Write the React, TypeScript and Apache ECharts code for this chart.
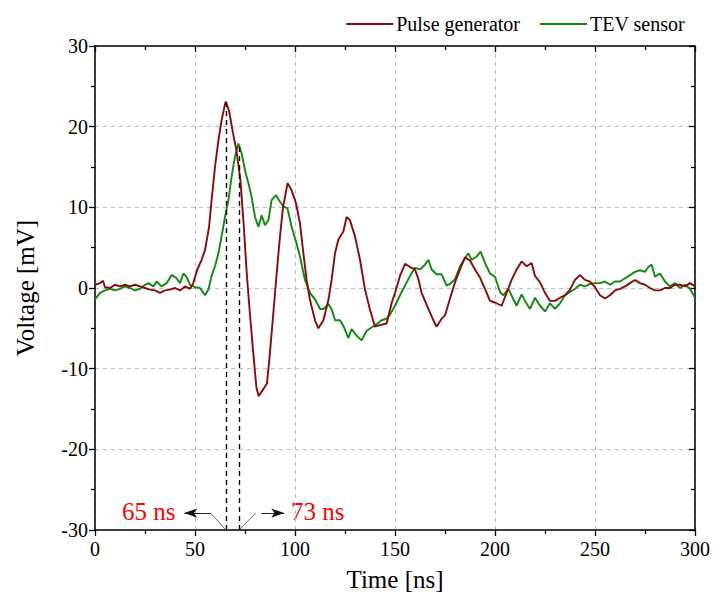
import React, { useEffect, useRef } from "react";
import * as echarts from "echarts";

const pulseTime = [0, 2.5, 4, 5, 7.5, 10, 12.5, 15, 17.5, 20, 22.5, 25, 27.5, 30, 32.5, 35, 37.5, 40, 42.5, 45, 47.5, 49, 51, 53.3, 55, 57, 58.3, 60, 61.7, 63.3, 65.3, 67, 69, 70.7, 72.7, 74.3, 76, 77.3, 79, 80.7, 81.8, 84, 86, 87.3, 89, 90.7, 92.3, 94, 96.3, 98.3, 100.5, 102.5, 104.2, 105.8, 107.5, 110, 111.7, 114.2, 116.7, 118.3, 120, 121.7, 124.2, 125.8, 127.5, 130, 132.5, 135, 137.5, 140, 142.5, 145.8, 148.3, 150, 152.5, 155, 157.5, 160, 161.7, 163.3, 165, 166.7, 169.2, 170.8, 173.3, 175, 177.5, 180, 182.5, 185, 187.5, 190, 192.5, 195, 197.5, 200, 203.3, 205.8, 208.3, 210.8, 213.3, 215.8, 218.3, 220, 222.5, 225, 227.5, 230, 232.5, 235, 237.5, 240, 242.5, 245, 247.5, 250, 252.5, 255, 257.5, 260, 262.5, 265, 267.5, 270, 272.5, 275, 277.5, 280, 282.5, 285, 287.5, 290, 292.5, 295, 297.5, 300];
const pulseVolt = [0.4, 0.6, 0.9, 0.1, 0, 0.4, 0.2, 0.4, 0.2, 0.4, 0.2, 0, -0.2, -0.3, -0.6, -0.3, -0.2, 0, -0.3, 0.2, -0.1, 0.5, 2.2, 3.5, 4.7, 7.5, 10.9, 15, 18.3, 20.8, 23.1, 22, 19.2, 17.1, 13.4, 8, 1.4, -2.7, -7.7, -12.3, -13.4, -12.6, -11.8, -8.5, -3.6, 1.4, 5.9, 10, 13, 12.1, 10.5, 8, 4.3, 1, -1.5, -4, -5, -4, -1.5, 1, 4.3, 6, 7, 8.8, 8.4, 6.4, 3.5, -0.2, -2.7, -4.8, -4.6, -4.4, -1.9, -0.6, 1.5, 3, 2.6, 2.3, 1.1, -0.6, -1.6, -2.6, -4, -4.8, -3.8, -3.4, -1.3, 0.7, 2.3, 3.8, 3.4, 2.3, 1.3, -0.1, -1.6, -1.8, -2.2, -0.6, 1, 2.3, 3.3, 2.7, 3.1, 1.5, 0.7, -0.6, -1.6, -1.6, -1.2, -0.9, -0.2, 1, 1.6, 1, 0.8, 0.1, -0.9, -1.3, -0.9, -0.3, -0.1, 0.2, 0.6, 1, 0.6, 0.4, 0, -0.3, -0.3, 0, 0, 0.4, 0.4, 0.2, 0.6, 0.2];

const tevTime = [0, 2.5, 5, 7.5, 10, 12.5, 15, 17.5, 20, 22.5, 25, 26.7, 29.2, 30.8, 33.3, 35.8, 38.3, 40.8, 42.5, 44.2, 45.8, 47.5, 50, 52.5, 55, 56.7, 58.3, 60, 61.7, 63.3, 65, 66.7, 68.3, 70, 71.7, 73.3, 75, 76.7, 78.3, 80, 81.7, 83.3, 85, 86.7, 88.3, 90.5, 92.5, 94.2, 96.2, 98.3, 100.8, 102.5, 105, 107.5, 110, 112.5, 114.2, 116.7, 118.3, 120, 122.5, 124.2, 126.7, 128.3, 130.8, 133.3, 135.8, 138.3, 140.8, 143.3, 145.8, 147.5, 150, 152.5, 155, 157.5, 160, 162.5, 165, 166.7, 168.3, 170.8, 173.3, 175.8, 177.5, 180, 182.5, 185, 186.7, 188.3, 190.8, 192.8, 195, 197.5, 200, 202.5, 204.2, 206.7, 209.2, 210.8, 213.3, 215, 217.5, 220, 222.5, 225, 227.5, 230, 232.5, 235, 237.5, 240, 242.5, 245, 247.5, 250, 252.5, 255, 257.5, 260, 262.5, 265, 267.5, 270, 272.5, 275, 276.7, 278.3, 280, 282.5, 285, 287.5, 290, 292.5, 295, 297.5, 300];
const tevVolt = [-1.4, -0.6, -0.3, -0.1, -0.3, -0.1, 0.2, 0, -0.3, -0.1, 0.4, 0.6, 0.2, 0.8, 0.2, 0.6, 1.6, 1.2, 0.6, 1.8, 1.4, 0.4, 0.1, 0, -0.9, -0.2, 1.5, 2.7, 4.3, 6.4, 8.8, 10.9, 13.8, 16.3, 17.9, 16.7, 14.6, 13, 11.3, 8.8, 7.6, 9, 7.8, 8.4, 10.9, 11.5, 10.7, 10.1, 9.9, 7.6, 5.5, 3.9, 1, -0.6, -1.4, -2.6, -2.6, -2, -2.6, -4, -4, -4.7, -6.2, -5.1, -5.9, -6.5, -5.3, -4.9, -4.5, -4, -3.8, -3.3, -2.2, -0.9, 0.3, 1.5, 2.5, 2.3, 2.9, 3.5, 2.3, 1.7, 1.7, 0.3, 0.5, 1.1, 2.7, 3.7, 4.3, 3.5, 3.9, 4.5, 3.1, 1.8, 1.4, -0.5, -0.9, -0.1, -1.4, -2.2, -0.8, -1.6, -2.6, -1.2, -2.2, -2.9, -1.9, -2.6, -1.9, -0.9, -0.5, -0.1, 0.4, 0.2, 0.5, 0.6, 0.6, 0.8, 0.4, 0.8, 0.8, 1.2, 1.6, 2, 2.2, 2, 2.6, 2.9, 1.4, 1.8, 0.8, 0.2, 0.6, 0, 0.4, -0.1, -1.2];

const seriesNames = ["Pulse generator", "TEV sensor"];
const seriesColors = ["#8b0a0a", "#0f8a0f"];
const xTicks = { min: 0, max: 300, interval: 50 };
const yTicks = { min: -30, max: 30, interval: 10 };
const delayMarks = [65.5, 72];
const delayPeaks = [23.1, 17.8];
const delayLabels = ["65 ns", "73 ns"];

const FONT = '"Liberation Serif", "Times New Roman", serif';

export default function App() {
  const ref = useRef<HTMLDivElement>(null);
  useEffect(() => {
    if (!ref.current) return;
    const chart = echarts.init(ref.current, undefined, { renderer: "svg" });
    const axisLineStyle = { color: "#000", width: 1.5 };
    const splitLine = { show: true, lineStyle: { color: "#bdbdbd", type: [4, 4] as any, width: 1 } };
    const gray = "#444";
    const markData: any[] = [
      [
        { coord: [delayMarks[0], yTicks.min], symbol: "none", lineStyle: { color: "#000", type: [5, 4], width: 1.4 } },
        { coord: [delayMarks[0], delayPeaks[0]], symbol: "none" },
      ],
      [
        { coord: [delayMarks[1], yTicks.min], symbol: "none", lineStyle: { color: "#000", type: [5, 4], width: 1.4 } },
        { coord: [delayMarks[1], delayPeaks[1]], symbol: "none" },
      ],
      [
        { coord: [delayMarks[0], -30], symbol: "none", lineStyle: { color: gray, width: 0.8, type: "solid" } },
        { coord: [57.8, -27.9], symbol: "none" },
      ],
      [
        { coord: [57.8, -27.9], symbol: "none", lineStyle: { color: "#111", width: 0.9, type: "solid" } },
        { coord: [44.6, -27.9], symbol: "arrow", symbolSize: [7, 13] },
      ],
      [
        { coord: [delayMarks[1], -30], symbol: "none", lineStyle: { color: gray, width: 0.8, type: "solid" } },
        { coord: [80.3, -27.9], symbol: "none" },
      ],
      [
        { coord: [83.3, -27.9], symbol: "none", lineStyle: { color: "#111", width: 0.9, type: "solid" } },
        { coord: [94.6, -27.9], symbol: "arrow", symbolSize: [7, 13] },
      ],
    ];
    const option: any = {
      animation: false,
      textStyle: { fontFamily: FONT },
      grid: { left: 95, right: 19, top: 46, bottom: 71, containLabel: false },
      legend: {
        data: seriesNames,
        right: 24,
        top: 9,
        icon: "rect",
        itemWidth: 47,
        itemHeight: 2,
        itemGap: 20,
        textStyle: { fontFamily: FONT, fontSize: 20, color: "#000", padding: [0, 0, 0, -2] },
      },
      xAxis: [
        {
          type: "value",
          position: "bottom",
          ...xTicks,
          axisLine: { show: true, onZero: false, lineStyle: axisLineStyle },
          axisTick: { show: true, inside: false, length: 6, lineStyle: { color: "#000", width: 1.3 } },
          minorTick: { show: true, splitNumber: 2, length: 4, lineStyle: { color: "#000", width: 1.3 } },
          splitLine,
          axisLabel: { fontFamily: FONT, fontSize: 20, color: "#000", margin: 9 },
          name: "Time [ns]",
          nameLocation: "middle",
          nameGap: 37,
          nameTextStyle: { fontFamily: FONT, fontSize: 25, color: "#000" },
        },
        {
          type: "value",
          position: "top",
          ...xTicks,
          axisLine: { show: true, onZero: false, lineStyle: axisLineStyle },
          axisTick: { show: true, inside: true, length: 6, lineStyle: { color: "#000", width: 1.3 } },
          minorTick: { show: true, splitNumber: 2, length: 4, lineStyle: { color: "#000", width: 1.3 } },
          splitLine: { show: false },
          axisLabel: { show: false },
        },
      ],
      yAxis: [
        {
          type: "value",
          position: "left",
          ...yTicks,
          axisLine: { show: true, onZero: false, lineStyle: axisLineStyle },
          axisTick: { show: true, inside: false, length: 6, lineStyle: { color: "#000", width: 1.3 } },
          minorTick: { show: true, splitNumber: 2, length: 4, lineStyle: { color: "#000", width: 1.3 } },
          splitLine,
          axisLabel: { fontFamily: FONT, fontSize: 20, color: "#000", margin: 7 },
          name: "Voltage [mV]",
          nameLocation: "middle",
          nameGap: 57,
          nameTextStyle: { fontFamily: FONT, fontSize: 25, color: "#000" },
        },
        {
          type: "value",
          position: "right",
          ...yTicks,
          axisLine: { show: true, onZero: false, lineStyle: axisLineStyle },
          axisTick: { show: true, inside: true, length: 6, lineStyle: { color: "#000", width: 1.3 } },
          minorTick: { show: true, splitNumber: 2, length: 4, lineStyle: { color: "#000", width: 1.3 } },
          splitLine: { show: false },
          axisLabel: { show: false },
        },
      ],
      series: [
        {
          name: seriesNames[0],
          type: "line",
          data: pulseTime.map((t, i) => [t, pulseVolt[i]]),
          showSymbol: false,
          symbol: "none",
          color: seriesColors[0],
          lineStyle: { width: 1.9, color: seriesColors[0] },
          z: 3,
        },
        {
          name: seriesNames[1],
          type: "line",
          data: tevTime.map((t, i) => [t, tevVolt[i]]),
          showSymbol: false,
          symbol: "none",
          color: seriesColors[1],
          lineStyle: { width: 1.9, color: seriesColors[1] },
          z: 2,
          markLine: {
            silent: true,
            animation: false,
            symbol: ["none", "none"],
            label: { show: false },
            data: markData,
          },
        },
      ],
      graphic: [
        {
          type: "text",
          left: 122,
          top: 499,
          style: { text: delayLabels[0], fill: "#ff0000", font: `25px ${FONT}` },
        },
        {
          type: "text",
          left: 291,
          top: 499,
          style: { text: delayLabels[1], fill: "#ff0000", font: `25px ${FONT}` },
        },
      ],
    };
    chart.setOption(option);
    return () => chart.dispose();
  }, []);
  return (
    <div
      ref={ref}
      style={{ position: "fixed", left: 0, top: 0, width: 714, height: 601, background: "#fff" }}
    />
  );
}
